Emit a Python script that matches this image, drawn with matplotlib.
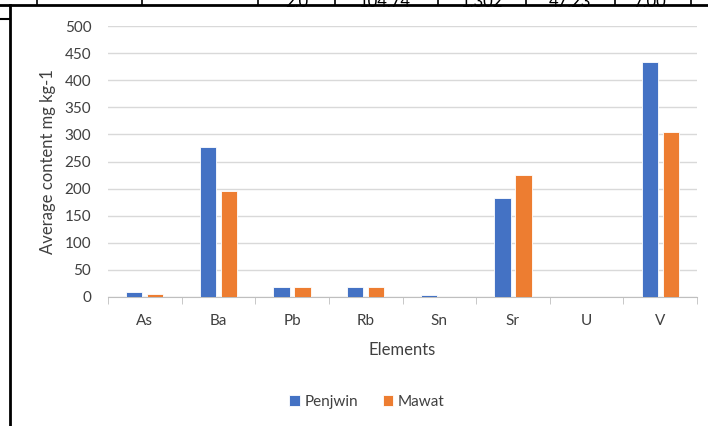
import numpy as np
import matplotlib.pyplot as plt
from matplotlib.lines import Line2D

plt.rcParams['font.family'] = ['Lato', 'DejaVu Sans']

# data
elements = ['As', 'Ba', 'Pb', 'Rb', 'Sn', 'Sr', 'U', 'V']
penjwin = [10, 277, 18, 18, 3, 182, 0, 433]
mawat = [6, 195, 18, 18, 0, 225, 0, 305]
yticks = [0, 50, 100, 150, 200, 250, 300, 350, 400, 450, 500]

W, H = 708, 426
fig = plt.figure(figsize=(W / 100, H / 100), dpi=100)
ax = fig.add_axes([108 / W, 1 - 297 / H, (697 - 108) / W, (297 - 26) / H])

x = np.arange(len(elements))
bw = 0.22
off = 0.143
ax.bar(x - off, penjwin, bw, color='#4472C4', edgecolor='white', linewidth=0.6, label='Penjwin', zorder=3)
ax.bar(x + off, mawat, bw, color='#ED7D31', edgecolor='white', linewidth=0.6, label='Mawat', zorder=3)

ax.set_xlim(-0.5, len(elements) - 0.5)
ax.set_ylim(0, 500)
ax.set_yticks(yticks)
ax.yaxis.grid(True, color='#d9d9d9', linewidth=1)
ax.set_axisbelow(True)
for s in ['top', 'right', 'left']:
    ax.spines[s].set_visible(False)
ax.spines['bottom'].set_color('#bfbfbf')
ax.tick_params(axis='y', length=0, labelsize=11, colors='#404040', pad=12)
ax.set_xticks(x)
ax.set_xticklabels(elements)
ax.tick_params(axis='x', length=0, labelsize=11, colors='#404040', pad=12)
# tick marks between categories
ax.set_xticks(np.arange(len(elements) + 1) - 0.5, minor=True)
ax.tick_params(axis='x', which='minor', length=5, color='#bfbfbf', direction='out')

ax.set_ylabel('Average content mg kg-1', fontsize=12, color='#404040', labelpad=6)
ax.set_xlabel('Elements', fontsize=12, color='#404040', labelpad=10)

ax.legend(loc='center', bbox_to_anchor=(367 / W, 1 - 402 / H), bbox_transform=fig.transFigure,
          ncol=2, frameon=False, fontsize=11, handlelength=0.7, handleheight=0.7,
          handletextpad=0.3, columnspacing=1.6, labelcolor='#404040')

# frame of the page / table remnants
fig.add_artist(Line2D([0, 1], [1 - 5 / H, 1 - 5 / H], transform=fig.transFigure, color='black', lw=2))
fig.add_artist(Line2D([10 / W, 10 / W], [0, 1 - 5 / H], transform=fig.transFigure, color='black', lw=2))
fig.add_artist(Line2D([0, 10 / W], [1 - 19 / H, 1 - 19 / H], transform=fig.transFigure, color='black', lw=1.5))
for xv in [37, 142, 258, 335, 438, 526, 615, 691]:
    fig.add_artist(Line2D([xv / W, xv / W], [1 - 5 / H, 1], transform=fig.transFigure, color='black', lw=1.2))
for xc, t in [(297, '2.0'), (385, '104.74'), (482, '1.302'), (570, '47.23'), (650, '7.00')]:
    fig.text(xc / W, 1 - 2 / H, t, ha='center', va='center', fontsize=12, color='black')

plt.savefig('out.png', dpi=100)
